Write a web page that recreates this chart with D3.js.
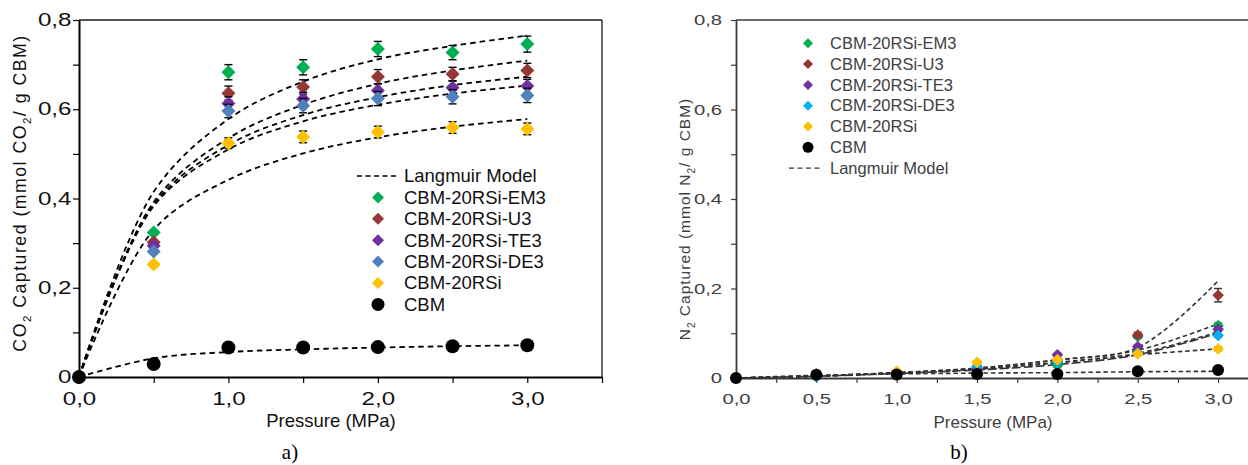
<!DOCTYPE html>
<html>
<head>
<meta charset="utf-8">
<script src="https://cdn.jsdelivr.net/npm/d3@7"></script>
<style>
  body { margin: 0; background: #fff; }
  svg { display: block; font-family: Arial, "Liberation Sans", sans-serif; }
</style>
</head>
<body>
<svg id="chart" width="1248" height="465"></svg>
<script>
// ---------- data ----------
const pressures = [0, 0.5, 1.0, 1.5, 2.0, 2.5, 3.0];
const seriesNames = ["CBM-20RSi-EM3", "CBM-20RSi-U3", "CBM-20RSi-TE3", "CBM-20RSi-DE3", "CBM-20RSi", "CBM"];

// CO2 uptake (mmol/g)
const co2EM3 = [0, 0.324, 0.683, 0.694, 0.735, 0.727, 0.746];
const co2U3  = [0, 0.302, 0.636, 0.650, 0.673, 0.679, 0.687];
const co2TE3 = [0, 0.294, 0.613, 0.623, 0.642, 0.648, 0.652];
const co2DE3 = [0, 0.281, 0.596, 0.608, 0.624, 0.628, 0.631];
const co2RSi = [0, 0.252, 0.524, 0.538, 0.549, 0.559, 0.556];
const co2CBM = [0, 0.029, 0.066, 0.066, 0.067, 0.069, 0.071];

const co2ErrEM3 = [0, 0.005, 0.017, 0.017, 0.017, 0.016, 0.018];
const co2ErrU3  = [0, 0.005, 0.016, 0.016, 0.016, 0.015, 0.016];
const co2ErrTE3 = [0, 0.005, 0.015, 0.015, 0.015, 0.015, 0.015];
const co2ErrDE3 = [0, 0.005, 0.015, 0.016, 0.016, 0.016, 0.016];
const co2ErrRSi = [0, 0.005, 0.012, 0.013, 0.013, 0.013, 0.013];
const co2ErrCBM = [0, 0.003, 0.004, 0.004, 0.004, 0.004, 0.004];

// Langmuir model, CO2
const co2FitEM3 = [0, 0.415, 0.578, 0.662, 0.712, 0.742, 0.765];
const co2FitU3  = [0, 0.392, 0.535, 0.610, 0.657, 0.687, 0.709];
const co2FitTE3 = [0, 0.387, 0.520, 0.587, 0.627, 0.654, 0.673];
const co2FitDE3 = [0, 0.383, 0.510, 0.573, 0.610, 0.635, 0.653];
const co2FitRSi = [0, 0.330, 0.442, 0.501, 0.537, 0.561, 0.578];
const co2FitCBM = [0, 0.042, 0.056, 0.062, 0.066, 0.069, 0.071];

// N2 uptake (mmol/g)
const n2EM3 = [0, 0.004, 0.009, 0.017, 0.028, 0.093, 0.117];
const n2U3  = [0, 0.005, 0.011, 0.020, 0.040, 0.096, 0.185];
const n2TE3 = [0, 0.005, 0.011, 0.022, 0.052, 0.070, 0.109];
const n2DE3 = [0, 0.003, 0.008, 0.026, 0.035, 0.056, 0.095];
const n2RSi = [0, 0.010, 0.015, 0.035, 0.041, 0.054, 0.065];
const n2CBM = [0, 0.007, 0.008, 0.009, 0.009, 0.015, 0.018];

const n2ErrEM3 = [0, 0.002, 0.002, 0.003, 0.003, 0.004, 0.006];
const n2ErrU3  = [0, 0.002, 0.002, 0.003, 0.003, 0.006, 0.015];
const n2ErrTE3 = [0, 0.002, 0.002, 0.003, 0.003, 0.004, 0.005];
const n2ErrDE3 = [0, 0.002, 0.002, 0.003, 0.003, 0.003, 0.004];
const n2ErrRSi = [0, 0.002, 0.002, 0.003, 0.003, 0.003, 0.004];
const n2ErrCBM = [0, 0.001, 0.001, 0.001, 0.001, 0.002, 0.002];

// Langmuir model, N2
const n2FitEM3 = [0, 0.004, 0.012, 0.022, 0.040, 0.062, 0.121];
const n2FitU3  = [0, 0.004, 0.012, 0.022, 0.041, 0.068, 0.217];
const n2FitTE3 = [0, 0.004, 0.011, 0.020, 0.034, 0.055, 0.103];
const n2FitDE3 = [0, 0.004, 0.010, 0.018, 0.030, 0.052, 0.100];
const n2FitRSi = [0, 0.005, 0.012, 0.020, 0.035, 0.052, 0.065];
const n2FitCBM = [0, 0.006, 0.009, 0.011, 0.012, 0.014, 0.015];

// tick values
const yTicks = [0, 0.1, 0.2, 0.3, 0.4, 0.5, 0.6, 0.7, 0.8];
const xTicksA = [0, 0.5, 1.0, 1.5, 2.0, 2.5, 3.0, 3.5];
const xTicksB = [0, 0.25, 0.5, 0.75, 1.0, 1.25, 1.5, 1.75, 2.0, 2.25, 2.5, 2.75, 3.0, 3.25];

const coloursA = ["#00B050", "#953735", "#7030A0", "#4F81BD", "#FFC000", "#000000"];
const coloursB = ["#00B050", "#953735", "#7030A0", "#00B0F0", "#FFC000", "#000000"];

const svg = d3.select("#chart");
const comma = v => v.toFixed(1).replace(".", ",");

function diamond(r) { return `M0,${-r}L${r},0L0,${r}L${-r},0Z`; }

function stretchTicks(g, s) {
  g.selectAll(".tick text").each(function () {
    const t = d3.select(this);
    const x = +t.attr("x") || 0;
    t.attr("x", x / s).attr("transform", `scale(${s},1)`);
  });
}

function drawPanel(opt) {
  const g = svg.append("g");
  const x = d3.scaleLinear().domain(opt.xDomain).range(opt.xRange);
  const y = d3.scaleLinear().domain([0, 0.8]).range(opt.yRange);

  // frame
  g.append("line").attr("x1", opt.xRange[0]).attr("x2", opt.xRange[1])
    .attr("y1", opt.yRange[1]).attr("y2", opt.yRange[1])
    .attr("stroke", opt.frameColour).attr("stroke-width", 1.3);
  if (opt.rightFrame) {
    g.append("line").attr("x1", opt.xRange[1]).attr("x2", opt.xRange[1])
      .attr("y1", opt.yRange[1]).attr("y2", opt.yRange[0])
      .attr("stroke", opt.frameColour).attr("stroke-width", 1.3);
  }

  // axes
  const xAxis = d3.axisBottom(x).tickValues(opt.xTicks).tickSize(opt.tickLen).tickSizeOuter(0)
    .tickPadding(opt.xPad).tickFormat(opt.xFormat);
  const gx = g.append("g").attr("transform", `translate(0,${opt.yRange[0]})`).call(xAxis);
  const yAxis = d3.axisLeft(y).tickValues(yTicks).tickSize(opt.tickLen).tickSizeOuter(0)
    .tickPadding(opt.yPad)
    .tickFormat((d, i) => i % 2 ? "" : (d === 0 ? "0" : comma(d)));
  const gy = g.append("g").attr("transform", `translate(${opt.xRange[0]},0)`).call(yAxis);

  [gx, gy].forEach(a => {
    a.select(".domain").attr("stroke", opt.axisColour).attr("stroke-width", opt.axisWidth);
    a.selectAll(".tick line").attr("stroke", opt.axisColour).attr("stroke-width", 1.2);
    a.selectAll(".tick text").attr("fill", opt.textColour).attr("font-size", opt.tickFont)
      .attr("font-family", "Arial, 'Liberation Sans', sans-serif");
  });
  stretchTicks(gx, opt.tickStretch);
  stretchTicks(gy, opt.tickStretch);

  // Langmuir model curves
  const line = d3.line().x((d, i) => x(pressures[i])).y(d => y(d)).curve(d3.curveCatmullRom.alpha(0.5));
  opt.fits.forEach((f, k) => {
    g.append("path").attr("d", line(f)).attr("fill", "none")
      .attr("stroke", opt.fitColour).attr("stroke-width", opt.fitWidth)
      .attr("stroke-dasharray", opt.fitDash[k] || opt.fitDash.default);
  });

  // error bars + markers
  opt.values.forEach((vals, k) => {
    const errs = opt.errors[k];
    const eg = g.append("g").attr("stroke", opt.errColour).attr("stroke-width", 1.4);
    vals.forEach((v, i) => {
      const px = x(pressures[i]);
      eg.append("line").attr("x1", px).attr("x2", px).attr("y1", y(v - errs[i])).attr("y2", y(v + errs[i]));
      eg.append("line").attr("x1", px - 4).attr("x2", px + 4).attr("y1", y(v - errs[i])).attr("y2", y(v - errs[i]));
      eg.append("line").attr("x1", px - 4).attr("x2", px + 4).attr("y1", y(v + errs[i])).attr("y2", y(v + errs[i]));
    });
    const mg = g.append("g").attr("fill", opt.colours[k]);
    vals.forEach((v, i) => {
      if (k === vals.length - 1 || seriesNames[k] === "CBM") {
        mg.append("circle").attr("cx", x(pressures[i])).attr("cy", y(v)).attr("r", opt.circleR);
      } else {
        mg.append("path").attr("d", diamond(opt.diamondR))
          .attr("transform", `translate(${x(pressures[i])},${y(v)})`);
      }
    });
  });

  // legend
  const lg = g.append("g").attr("font-size", opt.legendFont).attr("fill", opt.legendText);
  opt.legendRows.forEach((row, i) => {
    const ly = opt.legendY + i * opt.legendStep;
    if (row === "Langmuir Model") {
      lg.append("line").attr("x1", opt.legendDash[0]).attr("x2", opt.legendDash[1])
        .attr("y1", ly).attr("y2", ly).attr("stroke", opt.fitColour)
        .attr("stroke-width", opt.fitWidth * 0.85).attr("stroke-dasharray", "5,3.5");
    } else {
      const k = seriesNames.indexOf(row);
      if (row === "CBM") {
        lg.append("circle").attr("cx", opt.legendMarkX).attr("cy", ly).attr("r", opt.legendCircleR).attr("fill", opt.colours[k]);
      } else {
        lg.append("path").attr("d", diamond(opt.legendDiamondR)).attr("fill", opt.colours[k])
          .attr("transform", `translate(${opt.legendMarkX},${ly})`);
      }
    }
    lg.append("text").attr("x", opt.legendTextX).attr("y", ly).attr("dy", "0.35em").text(row);
  });

  return { g, x, y };
}

// ---------- panel a: CO2 ----------
const legendA = ["Langmuir Model", ...seriesNames];
drawPanel({
  xDomain: [0, 3.5], xRange: [79, 602], yRange: [377, 20],
  xTicks: xTicksA, xFormat: d => Number.isInteger(d) ? comma(d) : "",
  tickLen: 6, xPad: 10, yPad: 1.5, tickFont: 17.5, tickStretch: 1.38,
  axisColour: "#000", axisWidth: 2, frameColour: "#1a1a1a", rightFrame: true, textColour: "#111",
  fits: [co2FitEM3, co2FitU3, co2FitTE3, co2FitDE3, co2FitRSi, co2FitCBM],
  fitColour: "#000", fitWidth: 1.8, fitDash: { default: "5.5,4" },
  values: [co2EM3, co2U3, co2TE3, co2DE3, co2RSi, co2CBM],
  errors: [co2ErrEM3, co2ErrU3, co2ErrTE3, co2ErrDE3, co2ErrRSi, co2ErrCBM],
  errColour: "#000", colours: coloursA, diamondR: 7, circleR: 7,
  legendRows: legendA, legendY: 176, legendStep: 21.4, legendFont: 18.5, legendText: "#111",
  legendDash: [357, 397], legendMarkX: 378, legendTextX: 404, legendDiamondR: 6, legendCircleR: 6.5
});

// ---------- panel b: N2 ----------
const legendB = [...seriesNames, "Langmuir Model"];
drawPanel({
  xDomain: [0, 3.5], xRange: [736, 736 + 3.5 * 160.7], yRange: [378, 20],
  xTicks: xTicksB, xFormat: (d, i) => i % 2 ? "" : comma(d),
  tickLen: 5, xPad: 10, yPad: 9, tickFont: 15, tickStretch: 1.35,
  axisColour: "#3a3a3a", axisWidth: 1.8, frameColour: "#3a3a3a", rightFrame: false, textColour: "#404040",
  fits: [n2FitEM3, n2FitU3, n2FitTE3, n2FitDE3, n2FitRSi, n2FitCBM],
  fitColour: "#333", fitWidth: 1.6, fitDash: { default: "4.5,3", 3: "9,3" },
  values: [n2EM3, n2U3, n2TE3, n2DE3, n2RSi, n2CBM],
  errors: [n2ErrEM3, n2ErrU3, n2ErrTE3, n2ErrDE3, n2ErrRSi, n2ErrCBM],
  errColour: "#333", colours: coloursB, diamondR: 5.8, circleR: 6,
  legendRows: legendB, legendY: 43.3, legendStep: 20.8, legendFont: 16.5, legendText: "#404040",
  legendDash: [789, 823], legendMarkX: 808, legendTextX: 830, legendDiamondR: 5, legendCircleR: 5.5
});

// ---------- axis titles and panel letters ----------
svg.append("text").attr("x", 331).attr("y", 427).attr("text-anchor", "middle")
  .attr("font-size", 18.5).attr("fill", "#111").text("Pressure (MPa)");
svg.append("text").attr("x", 993).attr("y", 428).attr("text-anchor", "middle")
  .attr("font-size", 17).attr("fill", "#404040").text("Pressure (MPa)");

function yTitle(cx, cy, size, spacing, colour, gas) {
  const t = svg.append("text").attr("transform", `translate(${cx},${cy}) rotate(-90)`)
    .attr("text-anchor", "middle").attr("font-size", size).attr("fill", colour)
    .attr("letter-spacing", spacing);
  t.append("tspan").text(gas[0]);
  t.append("tspan").attr("font-size", size * 0.65).attr("dy", size * 0.3).text("2");
  t.append("tspan").attr("dy", -size * 0.3).text(` Captured (mmol ${gas[0]}`);
  t.append("tspan").attr("font-size", size * 0.65).attr("dy", size * 0.3).text("2");
  t.append("tspan").attr("dy", -size * 0.3).text("/ g CBM)");
}
yTitle(26, 193, 17.7, 1.5, "#111", ["CO"]);
yTitle(690, 219, 15.5, 1, "#404040", ["N"]);

svg.append("text").attr("x", 290).attr("y", 459).attr("text-anchor", "middle")
  .attr("font-family", "'Liberation Serif', 'Times New Roman', serif").attr("font-size", 21).attr("fill", "#000").text("a)");
svg.append("text").attr("x", 959).attr("y", 459).attr("text-anchor", "middle")
  .attr("font-family", "'Liberation Serif', 'Times New Roman', serif").attr("font-size", 21).attr("fill", "#000").text("b)");
</script>
</body>
</html>
